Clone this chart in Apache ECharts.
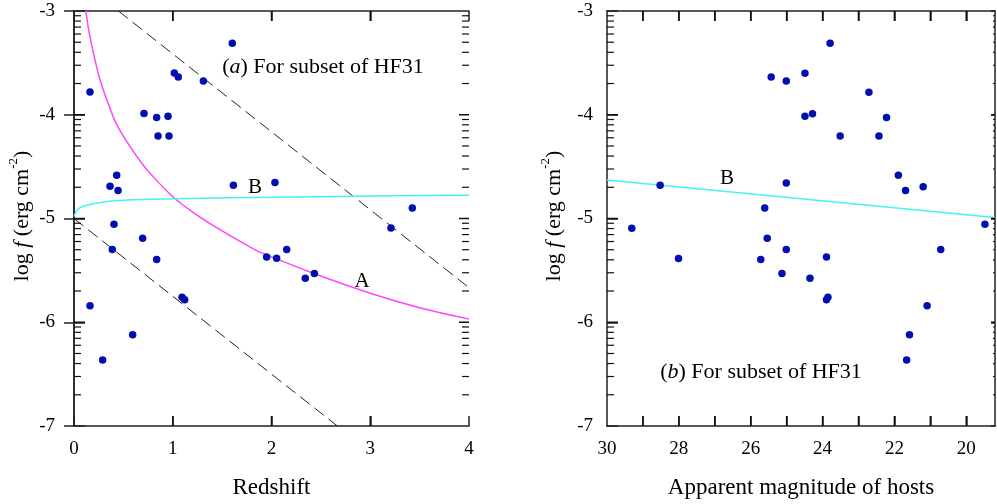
<!DOCTYPE html>
<html><head><meta charset="utf-8">
<script src="https://cdn.jsdelivr.net/npm/echarts@6/dist/echarts.min.js"></script>
<style>html,body{margin:0;padding:0;background:#fff}#c{width:997px;height:504px}</style>
</head><body><div id="c"></div>
<script>
// ---- Panel (a): redshift vs log f ----
const zLeft = [1.603, 1.016, 1.056, 1.31, 0.162, 0.709, 0.837, 0.952, 0.851, 0.962,
  0.432, 0.365, 0.446, 1.614, 2.035, 3.426, 0.405, 0.695, 0.388, 0.837,
  1.094, 1.121, 0.162, 0.594, 0.29, 1.951, 2.052, 2.154, 2.342, 2.434, 3.21];
const fLeft = [-3.31, -3.598, -3.636, -3.675, -3.78, -3.988, -4.026, -4.014, -4.205, -4.205,
  -4.583, -4.69, -4.73, -4.679, -4.653, -4.899, -5.056, -5.19, -5.299, -5.395,
  -5.76, -5.782, -5.842, -6.12, -6.364, -5.372, -5.382, -5.299, -5.577, -5.529, -5.091];
// ---- Panel (b): host magnitude vs log f ----
const magRight = [28.52, 25.61, 25.43, 25.01, 24.49, 23.79, 22.71, 24.49, 24.28, 22.22,
  23.51, 22.43, 21.89, 21.69, 21.2, 25.01, 29.31, 28.01, 25.54, 25.72,
  25.01, 25.13, 24.35, 23.89, 23.89, 23.85, 21.09, 20.71, 19.48, 21.58, 21.66];
const fRight = [-4.679, -4.899, -3.636, -3.675, -3.601, -3.31, -3.784, -4.014, -3.991, -4.026,
  -4.205, -4.205, -4.583, -4.73, -4.695, -4.657, -5.094, -5.385, -5.19, -5.395,
  -5.299, -5.529, -5.577, -5.372, -5.782, -5.76, -5.842, -5.299, -5.056, -6.12, -6.364];
// ---- Curves ----
const curveA_z = [0.12, 0.15, 0.2, 0.26, 0.33, 0.43, 0.57, 0.73, 1.0, 1.25, 1.5, 1.85, 2.0, 2.43, 3.0, 3.5, 4.0];
const curveA_f = [-3.0, -3.19, -3.42, -3.65, -3.85, -4.09, -4.31, -4.52, -4.79, -4.97, -5.12, -5.31, -5.37, -5.53, -5.72, -5.86, -5.97];
const curveB_z = [0, 0.03, 0.1, 0.3, 0.6, 1.0, 1.6, 2.5, 3.2, 4.0];
const curveB_f = [-4.98, -4.92, -4.88, -4.84, -4.82, -4.81, -4.80, -4.79, -4.78, -4.775];
const curveBmag = [30, 19.2];
const curveBmag_f = [-4.63, -4.99];
const upperDash_z = [0.45, 4.0];
const upperDash_f = [-3.0, -5.667];
const lowerDash_z = [0, 2.667];
const lowerDash_f = [-5.0, -7.0];
// ---- Ticks ----
const leftXLabels = [0, 1, 2, 3, 4];
const leftXTicks = [1, 2, 3];
const rightXLabels = [30, 28, 26, 24, 22, 20];
const rightXTicks = [29, 28, 27, 26, 25, 24, 23, 22, 21, 20];
const yMajorTicks = [-6, -5, -4];
const yMinor = [];
for (let d = -7; d <= -4; d++) for (let k = 2; k <= 9; k++) yMinor.push(d + Math.log10(k));

const zip = (a, b) => a.map((v, i) => [v, b[i]]);
const FONT = '"Liberation Serif", "Times New Roman", serif';
const FRAME = '#222';

function yAx(grid, pos, labels, margin, tickLen) {
  return {
    type: 'value', gridIndex: grid, position: pos, min: -7, max: -3, interval: 1,
    axisLine: { show: true, lineStyle: { color: FRAME, width: 1.5 } },
    axisTick: { show: true, inside: true, length: tickLen, lineStyle: { color: FRAME, width: 1.5 } },
    axisLabel: { show: !!labels, fontFamily: FONT, fontSize: 19, color: '#000', margin: margin || 14 },
    splitLine: { show: false }
  };
}
function xAx(grid, pos, min, max, inverse, labels, name, ticks) {
  const ax = {
    type: 'value', gridIndex: grid, position: pos, min, max, inverse,
    axisLine: { show: true, lineStyle: { color: FRAME, width: 1.5 } },
    axisTick: { show: true, inside: true, length: 10, lineStyle: { color: FRAME, width: 1.5 } },
    axisLabel: labels ? { show: true, fontFamily: FONT, fontSize: 19, color: '#000', margin: 14, customValues: labels }
                      : { show: false },
    splitLine: { show: false },
    name: name || '', nameLocation: 'middle', nameGap: 50,
    nameTextStyle: { fontFamily: FONT, fontSize: 23, color: '#000' }
  };
  if (ticks) ax.axisTick.customValues = ticks; else ax.interval = 1;
  return ax;
}

const chart = echarts.init(document.getElementById('c'));
const richTitle = {
  n: { fontFamily: FONT, fontSize: 22, lineHeight: 30, fill: '#000' },
  i: { fontFamily: FONT, fontSize: 22, lineHeight: 30, fontStyle: 'italic', fill: '#000' },
  s: { fontFamily: FONT, fontSize: 13, lineHeight: 13, verticalAlign: 'top', fill: '#000' }
};
const richSub = {
  n: { fontFamily: FONT, fontSize: 22, fill: '#000' },
  i: { fontFamily: FONT, fontSize: 22, fontStyle: 'italic', fill: '#000' }
};
const textGraphics = [
  { type: 'text', x: 22, y: 216, rotation: Math.PI / 2,
    style: { text: '{n|log }{i|f}{n| (erg cm}{s|-2}{n|)}', align: 'center', verticalAlign: 'middle', rich: richTitle } },
  { type: 'text', x: 554, y: 216, rotation: Math.PI / 2,
    style: { text: '{n|log }{i|f}{n| (erg cm}{s|-2}{n|)}', align: 'center', verticalAlign: 'middle', rich: richTitle } },
  { type: 'text', x: 323, y: 67,
    style: { text: '{n|(}{i|a}{n|) For subset of HF31}', align: 'center', verticalAlign: 'middle', rich: richSub } },
  { type: 'text', x: 761, y: 372,
    style: { text: '{n|(}{i|b}{n|) For subset of HF31}', align: 'center', verticalAlign: 'middle', rich: richSub } },
  { type: 'text', x: 255, y: 187, style: { text: 'B', font: '21px ' + FONT, fill: '#000', align: 'center', verticalAlign: 'middle' } },
  { type: 'text', x: 362, y: 281, style: { text: 'A', font: '21px ' + FONT, fill: '#000', align: 'center', verticalAlign: 'middle' } },
  { type: 'text', x: 727, y: 178, style: { text: 'B', font: '21px ' + FONT, fill: '#000', align: 'center', verticalAlign: 'middle' } }
];
chart.setOption({
  animation: false,
  backgroundColor: '#fff',
  grid: [
    { left: 74, top: 11, width: 395, height: 417 },
    { left: 607, top: 11, width: 388, height: 417 }
  ],
  xAxis: [
    xAx(0, 'bottom', 0, 4, false, leftXLabels, 'Redshift', null),
    xAx(0, 'top', 0, 4, false, null, '', null),
    xAx(1, 'bottom', 19.2, 30, true, rightXLabels, 'Apparent magnitude of hosts', rightXTicks),
    xAx(1, 'top', 19.2, 30, true, null, '', rightXTicks)
  ],
  yAxis: [
    yAx(0, 'left', true, 19, 11),
    yAx(0, 'right', false, 14, 10),
    yAx(1, 'left', true, 14, 11),
    yAx(1, 'right', false, 14, 4)
  ],
  series: [
    { type: 'line', xAxisIndex: 0, yAxisIndex: 0, data: zip(upperDash_z, upperDash_f), showSymbol: false,
      lineStyle: { color: '#222', width: 1, type: [12, 6] }, z: 2 },
    { type: 'line', xAxisIndex: 0, yAxisIndex: 0, data: zip(lowerDash_z, lowerDash_f), showSymbol: false,
      lineStyle: { color: '#222', width: 1, type: [12, 6] }, z: 2 },
    { type: 'line', xAxisIndex: 0, yAxisIndex: 0, data: zip(curveA_z, curveA_f), showSymbol: false, smooth: 0.2,
      lineStyle: { color: '#ff44ff', width: 1.5 }, z: 3 },
    { type: 'line', xAxisIndex: 0, yAxisIndex: 0, data: zip(curveB_z, curveB_f), showSymbol: false, smooth: 0.2,
      lineStyle: { color: '#44f4f4', width: 1.5 }, z: 3 },
    { type: 'scatter', xAxisIndex: 0, yAxisIndex: 0, data: zip(zLeft, fLeft), symbolSize: 7.5,
      itemStyle: { color: '#0010b0', opacity: 1 }, z: 5 },
    { type: 'line', xAxisIndex: 2, yAxisIndex: 2, data: zip(curveBmag, curveBmag_f), showSymbol: false,
      lineStyle: { color: '#44f4f4', width: 1.5 }, z: 3 },
    { type: 'scatter', xAxisIndex: 2, yAxisIndex: 2, data: zip(magRight, fRight), symbolSize: 7.5,
      itemStyle: { color: '#0010b0', opacity: 1 }, z: 5 }
  ],
  graphic: textGraphics
});

// Minor (log-spaced) and extra ticks placed through the chart's own scales
const tickEls = [];
function addTicks(grid, xmin, xmax, xTicks, lenRMajor, lenRMinor) {
  const px = (x, y) => chart.convertToPixel({ gridIndex: grid }, [x, y]);
  const seg = (p, dx, dy, w) => tickEls.push({ type: 'line', z: 50,
    shape: { x1: p[0], y1: p[1], x2: p[0] + dx, y2: p[1] + dy }, style: { stroke: '#111', lineWidth: w } });
  xTicks.forEach(v => { seg(px(v, -7), 0, -10, 1.5); seg(px(v, -3), 0, 10, 1.5); });
  yMajorTicks.forEach(v => { seg(px(xmin, v), 11, 0, 1.5); seg(px(xmax, v), -lenRMajor, 0, 1.5); });
  yMinor.forEach(v => { seg(px(xmin, v), 7, 0, 1.2); seg(px(xmax, v), -lenRMinor, 0, 1.2); });
}
addTicks(0, 0, 4, leftXTicks, 10, 7);
addTicks(1, 30, 19.2, rightXTicks, 4, 2);
chart.setOption({ graphic: textGraphics.concat(tickEls) });
</script>
</body></html>
